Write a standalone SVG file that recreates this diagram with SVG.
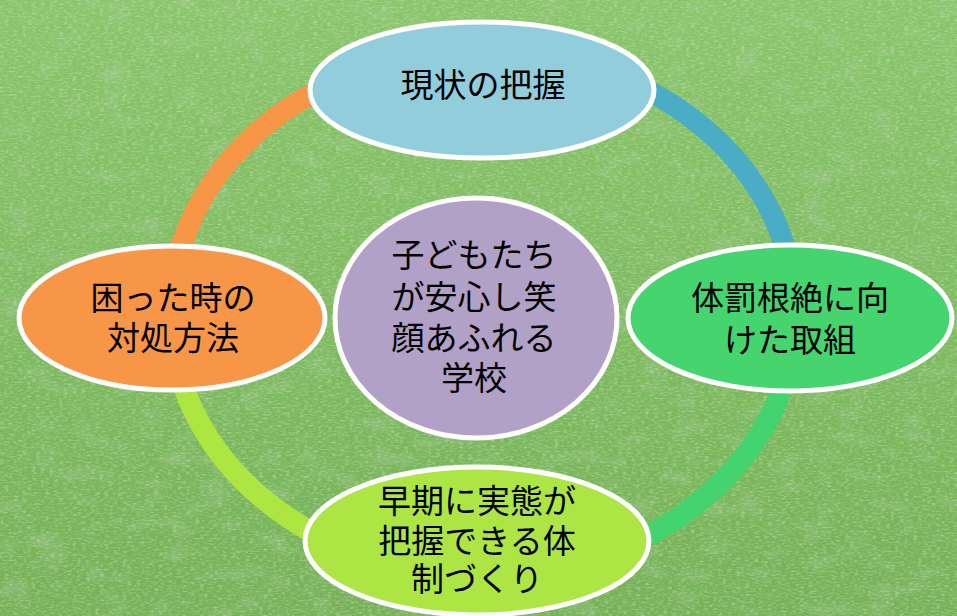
<svg xmlns="http://www.w3.org/2000/svg" width="957" height="616" viewBox="0 0 957 616">
<defs>
<style>
.node{stroke:#ffffff;stroke-width:5}
.arc{fill:none;stroke-width:21}
.lbl{font-family:"Noto Sans CJK JP","Noto Sans CJK SC",sans-serif;font-size:33px;fill:#000000;text-anchor:middle}
</style>
<linearGradient id="bg" x1="0" y1="0" x2="0" y2="1">
<stop offset="0" stop-color="#8ac56b"/>
<stop offset="0.5" stop-color="#7fbb61"/>
<stop offset="1" stop-color="#77b159"/>
</linearGradient>
<filter id="grassLight" x="0" y="0" width="100%" height="100%">
<feTurbulence type="fractalNoise" baseFrequency="0.22 0.55" numOctaves="3" seed="4"/>
<feColorMatrix type="matrix" values="0 0 0 0 0.65  0 0 0 0 0.86  0 0 0 0 0.55  0 0 0 1.1 -0.5"/>
</filter>
<filter id="grassDark" x="0" y="0" width="100%" height="100%">
<feTurbulence type="fractalNoise" baseFrequency="0.03 0.06" numOctaves="2" seed="9"/>
<feColorMatrix type="matrix" values="0 0 0 0 0.38  0 0 0 0 0.58  0 0 0 0 0.32  0 0 0 1.2 -0.62"/>
</filter>
</defs>
<g id="background">
<rect x="0" y="0" width="957" height="616" fill="url(#bg)"/>
<rect x="0" y="0" width="957" height="616" filter="url(#grassDark)"/>
<rect x="0" y="0" width="957" height="616" filter="url(#grassLight)"/>
</g>
<g id="connectors">
<path class="arc" stroke="#4bacc6" d="M483 51 A312 262 0 0 1 795 313"/>
<path class="arc" stroke="#43d46f" d="M795 313 A312 262 0 0 1 483 575"/>
<path class="arc" stroke="#aee641" d="M483 575 A312 262 0 0 1 171 313"/>
<path class="arc" stroke="#f79646" d="M171 313 A312 262 0 0 1 483 51"/>
</g>
<g id="node-top">
<ellipse class="node" cx="482" cy="90" rx="172" ry="68" fill="#92cddc"/>
<text class="lbl" x="483" y="97">現状の把握</text>
</g>
<g id="node-right">
<ellipse class="node" cx="790" cy="318" rx="162" ry="73" fill="#46d46f"/>
<text class="lbl" x="790" y="310">体罰根絶に向<tspan x="790" dy="42">けた取組</tspan></text>
</g>
<g id="node-bottom">
<ellipse class="node" cx="477" cy="541" rx="172" ry="74" fill="#ade644"/>
<text class="lbl" x="477" y="513">早期に実態が<tspan x="477" dy="40">把握できる体</tspan><tspan x="477" dy="38">制づくり</tspan></text>
</g>
<g id="node-left">
<ellipse class="node" cx="172" cy="318" rx="153" ry="72" fill="#f79646"/>
<text class="lbl" x="173" y="310">困った時の<tspan x="173" dy="40">対処方法</tspan></text>
</g>
<g id="node-center">
<ellipse class="node" cx="476" cy="318" rx="141" ry="120" fill="#b2a1c7"/>
<text class="lbl" x="474" y="267">子どもたち<tspan x="474" dy="42">が安心し笑</tspan><tspan x="474" dy="41">顔あふれる</tspan><tspan x="474" dy="40">学校</tspan></text>
</g>
</svg>
